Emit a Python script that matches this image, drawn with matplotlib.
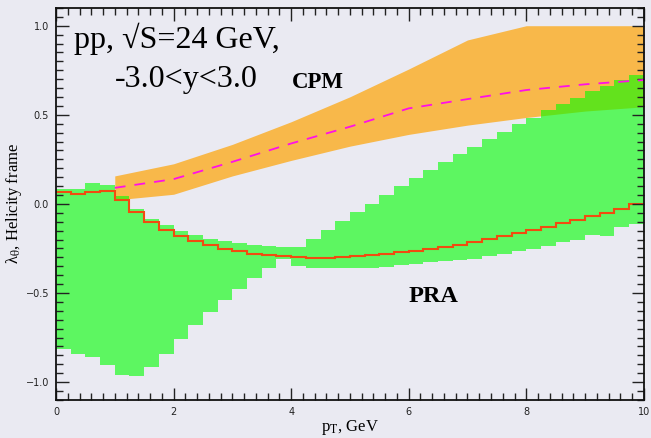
import numpy as np
import matplotlib
matplotlib.use('Agg')
from matplotlib import pyplot as plt
from matplotlib.ticker import MultipleLocator


# PRA: 40 bins of 0.25 GeV from 0 to 10
pt_edges = np.linspace(0, 10, 41)
pra_hi = [0.086, 0.086, 0.115, 0.105, 0.043, -0.026, -0.082, -0.120, -0.153, -0.176,
          -0.195, -0.210, -0.221, -0.232, -0.238, -0.243, -0.243, -0.198, -0.148, -0.097,
          -0.047, -0.002, 0.049, 0.099, 0.144, 0.189, 0.234, 0.279, 0.318, 0.363,
          0.403, 0.448, 0.481, 0.526, 0.560, 0.594, 0.633, 0.661, 0.695, 0.723]
pra_lo = [-0.816, -0.843, -0.860, -0.904, -0.961, -0.966, -0.917, -0.843, -0.760, -0.681,
          -0.607, -0.541, -0.479, -0.416, -0.360, -0.309, -0.348, -0.360, -0.360, -0.360,
          -0.360, -0.360, -0.354, -0.344, -0.335, -0.328, -0.322, -0.316, -0.309, -0.294,
          -0.283, -0.266, -0.255, -0.238, -0.213, -0.202, -0.176, -0.180, -0.129, -0.112]
pra_mid = [0.064, 0.055, 0.067, 0.071, 0.022, -0.043, -0.101, -0.146, -0.181, -0.210,
           -0.232, -0.253, -0.266, -0.279, -0.286, -0.294, -0.300, -0.301, -0.301, -0.300,
           -0.295, -0.289, -0.281, -0.271, -0.263, -0.254, -0.242, -0.230, -0.215, -0.198,
           -0.183, -0.166, -0.148, -0.127, -0.110, -0.092, -0.067, -0.050, -0.026, -0.003]

# CPM band
cpm_pt = [1, 2, 3, 4, 5, 6, 7, 8, 9, 10]
cpm_lo = [0.022, 0.054, 0.157, 0.244, 0.324, 0.390, 0.442, 0.485, 0.521, 0.545]
cpm_hi = [0.157, 0.225, 0.334, 0.461, 0.601, 0.757, 0.920, 1.000, 1.000, 1.000]
cpm_mid = [0.090, 0.139, 0.236, 0.339, 0.433, 0.536, 0.588, 0.639, 0.671, 0.695]

bg = '#eaeaf2'
serif = 'Liberation Serif'
plt.rcParams['mathtext.fontset'] = 'stix'

fig = plt.figure(figsize=(6.51, 4.38), dpi=100, facecolor=bg)
ax = fig.add_axes([0.086, 0.087, 0.903, 0.895])
ax.set_facecolor(bg)

ax.fill_between(cpm_pt, cpm_lo, cpm_hi, color='#f8b84a', lw=0)
ax.plot(cpm_pt, cpm_mid, color='#ff10e8', lw=1.3, dashes=(6, 5))

ax.stairs(pra_hi, pt_edges, baseline=pra_lo, fill=True, color='#00ff00', alpha=0.6, lw=0)
ax.stairs(pra_mid, pt_edges, baseline=None, color='#f04c10', lw=1.5)

ax.set_xlim(0, 10)
ax.set_ylim(-1.1, 1.1)
ax.xaxis.set_major_locator(MultipleLocator(2))
ax.xaxis.set_minor_locator(MultipleLocator(0.2))
ax.yaxis.set_major_locator(MultipleLocator(0.5))
ax.yaxis.set_minor_locator(MultipleLocator(0.05))
ax.tick_params(which='both', direction='in', top=True, right=True,
               labelsize=7, labelcolor='#222222', width=1.0, color='#222222')
ax.tick_params(which='major', length=9, pad=5)
ax.tick_params(which='minor', length=5)
for s in ax.spines.values():
    s.set_linewidth(1.3)
    s.set_color('#111111')

ax.set_xlabel(r'p$_{\mathrm{T}}$, GeV', fontfamily=serif, fontsize=12, labelpad=1)
ax.set_ylabel(r'λ$_{\mathrm{θ}}$, Helicity frame', fontfamily=serif, fontsize=12)
ax.yaxis.set_label_coords(-0.055, 0.5)

ax.text(0.306, 0.873, 'pp, √S=24 GeV,', fontfamily=serif, fontsize=23)
ax.text(1.0, 0.657, '-3.0<y<3.0', fontfamily=serif, fontsize=23)
ax.text(4.01, 0.648, 'CPM', fontfamily=serif, fontsize=16.5, fontweight='bold')
ax.text(5.99, -0.551, 'PRA', fontfamily=serif, fontsize=17.5, fontweight='bold')

fig.savefig('out.png', dpi=100, facecolor=bg)
